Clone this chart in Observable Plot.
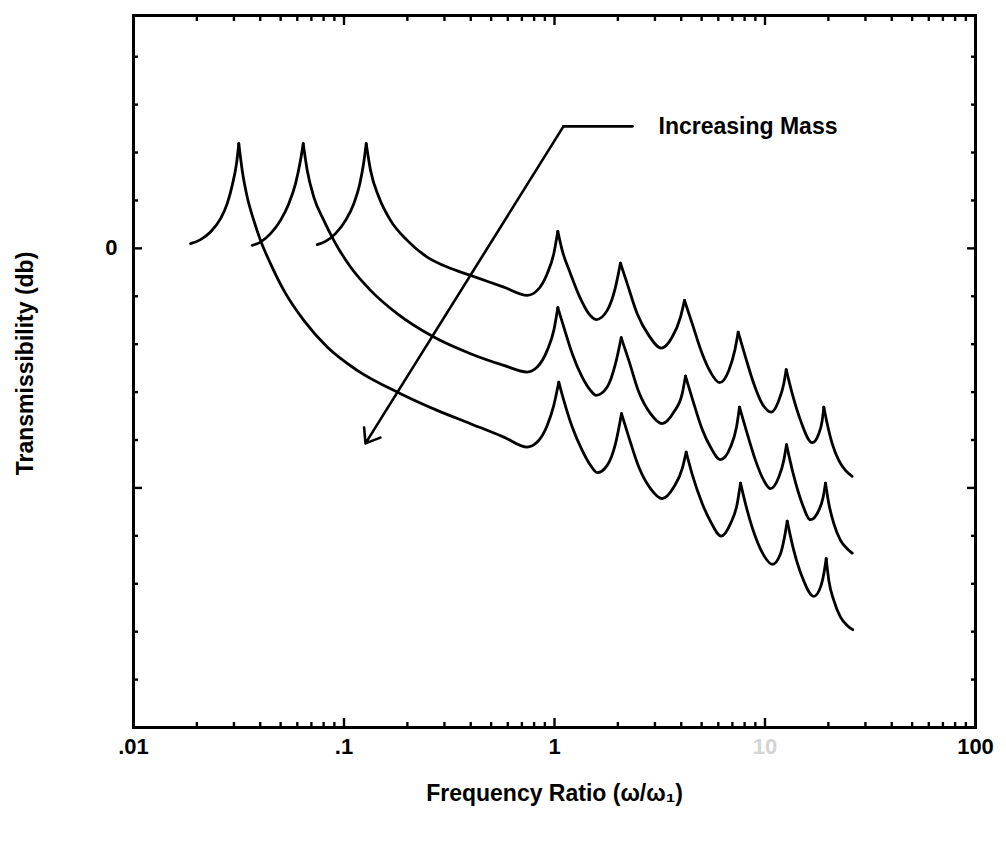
<!DOCTYPE html>
<html><head><meta charset="utf-8">
<script src="https://cdn.jsdelivr.net/npm/d3@7"></script>
<script src="https://cdn.jsdelivr.net/npm/@observablehq/plot@0.6"></script>
<style>body{margin:0;background:#fff} svg{display:block}</style>
</head><body><div id="chart"></div>
<script>
// ---- tick values / labels ----
const xTickValues = [0.01, 0.1, 1, 100];
const xTickLabels = [".01", ".1", "1", "100"];
const xFadedTick = [10];
const xFadedLabel = ["10"];
const xMajorTicks = [0.1, 1, 10];
const xMinorTicks = [0.02,0.03,0.04,0.05,0.06,0.07,0.08,0.09,
  0.2,0.3,0.4,0.5,0.6,0.7,0.8,0.9, 2,3,4,5,6,7,8,9, 20,30,40,50,60,70,80,90];
const yMajorTicks = [0, -50];
const yMinorTicks = [40,30,20,10,-10,-20,-30,-40,-60,-70,-80,-90];
const yTickValues = [0];
const yTickLabels = ["0"];

// ---- series: frequency ratio and transmissibility (db) ----
// lightest mass (top curve)
const freqLight = [0.07459,0.08168,0.09112,0.1017,0.1113,0.1189,0.1242,0.1275,
  0.1337,0.1464,0.1663,0.1996,0.2485,0.3092,0.3990,0.5743,0.7419,0.8277,0.9232,0.9923,1.037,
  1.088,1.191,1.329,1.455,1.578,1.780,1.949,2.058,
  2.215,2.471,2.805,3.213,3.624,3.968,4.146,
  4.510,5.031,5.509,6.079,6.730,7.187,7.459,
  8.079,8.847,9.699,10.70,11.63,12.28,12.61,
  13.47,14.75,16.76,18.01,18.70,19.03,
  19.75,20.86,22.42,24.12,25.96];
const dbLight = [0.77,1.46,3.07,5.84,9.33,13.50,18.01,21.85,
  16.28,10.71,5.84,1.67,-1.82,-3.90,-5.64,-8.08,-9.81,-8.77,-5.28,-1.11,3.55,
  -0.42,-5.28,-10.50,-13.63,-14.88,-12.94,-8.08,-3.07,
  -7.37,-13.63,-18.16,-20.81,-18.51,-14.34,-10.85,
  -15.72,-21.98,-25.82,-28.03,-25.47,-21.29,-17.47,
  -22.69,-28.24,-32.42,-34.17,-31.73,-28.24,-25.32,
  -30.33,-35.90,-40.56,-38.68,-35.90,-33.13,
  -36.59,-40.76,-44.25,-46.34,-47.59];
// medium mass (middle curve)
const freqMedium = [0.03664,0.04012,0.04476,0.04993,0.05467,0.05886,0.06214,0.06401,
  0.06687,0.07187,0.08018,0.08944,0.1074,0.1337,0.1789,0.2671,0.3990,0.5743,0.7419,0.8277,0.9232,0.9923,1.037,
  1.107,1.214,1.354,1.483,1.578,1.780,1.949,2.074,
  2.254,2.515,2.858,3.248,3.688,4.043,4.191,
  4.525,5.031,5.509,6.146,6.856,7.322,7.566,
  8.231,9.013,9.870,10.62,11.63,12.28,12.65,
  13.61,15.02,16.45,18.01,18.90,19.38,
  20.10,21.23,22.84,24.58,25.96];
const dbMedium = [0.63,1.31,3.07,5.84,9.33,13.50,18.37,21.85,
  16.28,10.71,5.84,1.67,-3.90,-8.77,-13.63,-18.51,-21.98,-24.42,-25.82,-24.78,-21.29,-17.12,-12.38,
  -16.43,-21.98,-26.86,-29.64,-30.68,-28.95,-24.07,-18.64,
  -23.38,-29.99,-34.50,-36.59,-34.17,-30.33,-26.65,
  -31.52,-37.78,-41.47,-44.10,-41.47,-37.30,-33.13,
  -38.68,-44.25,-48.43,-50.16,-47.74,-44.25,-40.97,
  -47.03,-53.29,-56.63,-54.69,-51.91,-48.99,
  -53.29,-57.46,-60.95,-62.68,-63.60];
// heaviest mass (bottom curve)
const freqHeavy = [0.01866,0.02081,0.02321,0.02591,0.02787,0.02944,0.03085,0.03164,
  0.03284,0.03469,0.03728,0.04012,0.04476,0.05176,0.06443,0.08321,0.1155,0.1856,0.2772,0.3990,0.5743,0.7419,0.8277,0.9232,0.9923,1.048,
  1.107,1.214,1.354,1.483,1.595,1.780,1.949,2.081,
  2.254,2.515,2.858,3.248,3.688,4.043,4.223,
  4.525,5.031,5.509,6.193,6.856,7.378,7.649,
  8.231,9.013,9.870,10.82,11.85,12.38,12.75,
  13.70,15.02,17.05,18.35,19.03,19.53,
  20.10,21.23,22.84,24.58,26.13];
const dbHeavy = [0.98,1.82,3.40,6.20,9.33,13.15,17.68,21.85,
  16.28,10.71,5.84,1.67,-3.19,-8.77,-15.03,-20.60,-25.47,-30.33,-33.81,-36.59,-39.39,-41.47,-40.43,-36.95,-32.77,-27.91,
  -31.73,-37.30,-42.16,-45.29,-46.82,-45.29,-40.76,-34.50,
  -39.39,-45.65,-50.16,-52.24,-49.82,-45.98,-42.52,
  -47.38,-53.23,-56.98,-60.05,-57.46,-53.29,-48.99,
  -54.69,-60.26,-64.08,-65.96,-63.73,-60.26,-56.92,
  -63.04,-68.61,-72.64,-70.70,-67.90,-64.77,
  -69.30,-73.47,-76.96,-78.69,-79.59];

// ---- annotation ----
const arrowFreq = [2.347, 1.103, 0.1265];
const arrowDb = [25.47, 25.47, -40.70];
const noteFreq = [3.119];
const noteDb = [25.47];
const noteText = ["Increasing Mass"];
const xTitle = "Frequency Ratio (ω/ω\u2081)";
const yTitle = "Transmissibility (db)";

// ---- build line rows, split at resonance peaks so they stay sharp ----
const curves = [["light", freqLight, dbLight], ["medium", freqMedium, dbMedium], ["heavy", freqHeavy, dbHeavy]];
const rows = [];
for (const [name, fr, db] of curves) {
  let seg = 0;
  for (let i = 0; i < fr.length; i++) {
    rows.push({key: name + seg, x: fr[i], y: db[i]});
    if (i > 0 && i < fr.length - 1 && db[i] > db[i - 1] && db[i] > db[i + 1]) {
      seg++;
      rows.push({key: name + seg, x: fr[i], y: db[i]});
    }
  }
}

const font = "'Liberation Sans', Arial, Helvetica, sans-serif";
const tickW = 2.4;
const chart = Plot.plot({
  width: 1006, height: 844,
  marginLeft: 133, marginRight: 31, marginTop: 15, marginBottom: 117,
  style: {fontFamily: font, background: "#fff", color: "#000"},
  x: {type: "log", domain: [0.01, 100], label: null},
  y: {domain: [-100, 48.6], label: null},
  marks: [
    // inward ticks on all four sides
    Plot.axisX({anchor: "top", ticks: xMinorTicks, tickSize: -5, strokeWidth: tickW, fill: "none", label: null}),
    Plot.axisX({anchor: "top", ticks: xMajorTicks, tickSize: -9, strokeWidth: tickW, fill: "none", label: null}),
    Plot.axisX({anchor: "bottom", ticks: xMinorTicks, tickSize: -5, strokeWidth: tickW, fill: "none", label: null}),
    Plot.axisX({anchor: "bottom", ticks: xMajorTicks, tickSize: -9, strokeWidth: tickW, fill: "none", label: null}),
    Plot.axisY({anchor: "left", ticks: yMinorTicks, tickSize: -5, strokeWidth: tickW, fill: "none", label: null}),
    Plot.axisY({anchor: "left", ticks: yMajorTicks, tickSize: -9, strokeWidth: tickW, fill: "none", label: null}),
    Plot.axisY({anchor: "right", ticks: yMinorTicks, tickSize: -5, strokeWidth: tickW, fill: "none", label: null}),
    Plot.axisY({anchor: "right", ticks: yMajorTicks, tickSize: -9, strokeWidth: tickW, fill: "none", label: null}),
    // tick labels
    Plot.axisX({anchor: "bottom", ticks: xTickValues, tickSize: 0, tickPadding: 11, label: null,
      tickFormat: d => xTickLabels[xTickValues.indexOf(d)], fontSize: 22, fontWeight: "bold"}),
    Plot.axisX({anchor: "bottom", ticks: xFadedTick, tickSize: 0, tickPadding: 11, label: null,
      tickFormat: d => xFadedLabel[xFadedTick.indexOf(d)], fontSize: 22, fontWeight: "bold", fill: "#d4d4d4"}),
    Plot.axisY({anchor: "left", ticks: yTickValues, tickSize: 0, tickPadding: 16, label: null,
      tickFormat: d => yTickLabels[yTickValues.indexOf(d)], fontSize: 22, fontWeight: "bold"}),
    Plot.frame({stroke: "#000", strokeWidth: 3}),
    // curves
    Plot.line(rows, {x: "x", y: "y", z: "key", curve: "monotone-x", stroke: "#000", strokeWidth: 2.8}),
    // annotation
    Plot.line([0, 1].map(i => ({x: arrowFreq[i], y: arrowDb[i]})), {x: "x", y: "y", stroke: "#000", strokeWidth: 2.6}),
    Plot.arrow([{x1: arrowFreq[1], y1: arrowDb[1], x2: arrowFreq[2], y2: arrowDb[2]}],
      {x1: "x1", y1: "y1", x2: "x2", y2: "y2", stroke: "#000", strokeWidth: 2.6, headLength: 9.2, headAngle: 74}),
    Plot.text(noteText.map((t, i) => ({t, x: noteFreq[i], y: noteDb[i]})),
      {x: "x", y: "y", text: "t", textAnchor: "start", fontSize: 23, fontWeight: "bold", fill: "#000"}),
    // axis titles
    Plot.text([xTitle], {text: d => d, frameAnchor: "bottom", dy: 73, fontSize: 23, fontWeight: "bold", fill: "#000"}),
    Plot.text([yTitle], {text: d => d, frameAnchor: "left", textAnchor: "middle", lineAnchor: "middle",
      dx: -108, dy: -8, rotate: -90, fontSize: 23, fontWeight: "bold", fill: "#000"})
  ]
});
document.getElementById("chart").appendChild(chart);
</script>
</body></html>
